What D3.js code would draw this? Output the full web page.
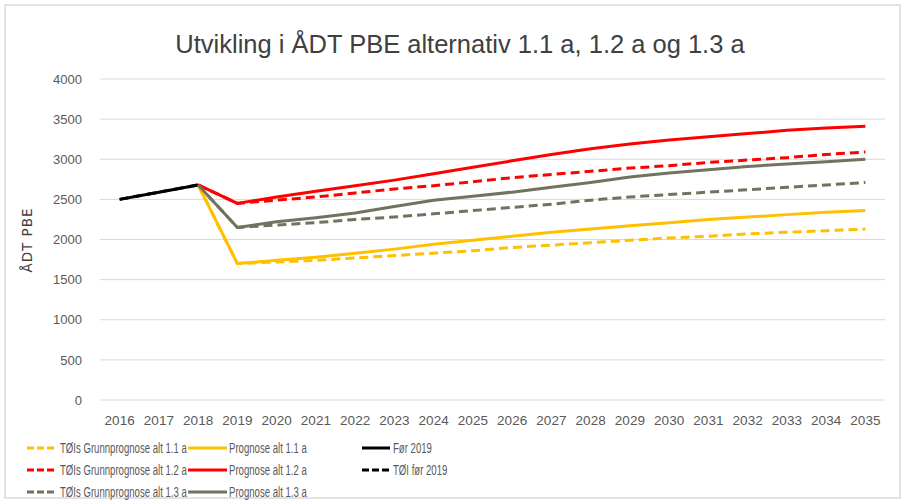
<!DOCTYPE html>
<html>
<head>
<meta charset="utf-8">
<script src="https://cdn.jsdelivr.net/npm/d3@7"></script>
<style>
  body { margin: 0; background: #fff; }
  text { font-family: "Liberation Sans", Arial, sans-serif; }
</style>
</head>
<body>
<div id="chart"></div>
<script>
const years = d3.range(2016, 2036).map(String);
const yTicks = [0, 500, 1000, 1500, 2000, 2500, 3000, 3500, 4000];

// values from 2018 on (2016-2017 only for the "før 2019" series)
const forYears = ["2016", "2017", "2018"];
const for2019 = [2500, 2590, 2680];
const toiFor2019 = [2500, 2590, 2680];

const progYears = d3.range(2018, 2036).map(String);
const toi11 = [2680, 1700, 1720, 1740, 1770, 1800, 1830, 1860, 1900, 1930, 1960, 1990, 2020, 2040, 2070, 2090, 2110, 2130];
const prog11 = [2680, 1700, 1740, 1780, 1830, 1880, 1940, 1990, 2040, 2090, 2130, 2170, 2210, 2250, 2280, 2310, 2340, 2360];
const toi12 = [2680, 2450, 2490, 2530, 2580, 2630, 2670, 2720, 2770, 2810, 2850, 2890, 2920, 2960, 2990, 3020, 3060, 3090];
const prog12 = [2680, 2450, 2530, 2600, 2670, 2740, 2820, 2900, 2980, 3060, 3130, 3190, 3240, 3280, 3320, 3360, 3390, 3410];
const toi13 = [2680, 2150, 2180, 2210, 2250, 2280, 2320, 2360, 2400, 2440, 2490, 2530, 2560, 2590, 2620, 2650, 2680, 2710];
const prog13 = [2680, 2150, 2220, 2270, 2330, 2410, 2490, 2540, 2590, 2650, 2710, 2780, 2830, 2870, 2910, 2940, 2970, 3000];

const YELLOW = "#ffc000", RED = "#ff0000", GRAY = "#72725f", BLACK = "#000000";

const series = [
  { name: "TØIs Grunnprognose alt 1.1 a", x: progYears, v: toi11, color: YELLOW, dash: true, col: 0, row: 0 },
  { name: "TØIs Grunnprognose alt 1.2 a", x: progYears, v: toi12, color: RED, dash: true, col: 0, row: 1 },
  { name: "TØIs Grunnprognose alt 1.3 a", x: progYears, v: toi13, color: GRAY, dash: true, col: 0, row: 2 },
  { name: "Prognose alt 1.1 a", x: progYears, v: prog11, color: YELLOW, dash: false, col: 1, row: 0 },
  { name: "Prognose alt 1.2 a", x: progYears, v: prog12, color: RED, dash: false, col: 1, row: 1 },
  { name: "Prognose alt 1.3 a", x: progYears, v: prog13, color: GRAY, dash: false, col: 1, row: 2 },
  { name: "Før 2019", x: forYears, v: for2019, color: BLACK, dash: false, col: 2, row: 0 },
  { name: "TØI før 2019", x: forYears, v: toiFor2019, color: BLACK, dash: true, col: 2, row: 1 }
];

const W = 908, H = 504;
const plot = { left: 100, right: 885, top: 79, bottom: 400 };

const svg = d3.select("#chart").append("svg").attr("width", W).attr("height", H);

svg.append("rect").attr("x", 5).attr("y", 5).attr("width", 895).attr("height", 493)
  .attr("fill", "#fff").attr("stroke", "#d9d9d9").attr("stroke-width", 1.5);

const x = d3.scaleBand().domain(years).range([plot.left, plot.right]);
const y = d3.scaleLinear().domain([0, 4000]).range([plot.bottom, plot.top]);

// gridlines
svg.append("g").selectAll("line").data(yTicks).join("line")
  .attr("x1", plot.left).attr("x2", plot.right)
  .attr("y1", d => y(d)).attr("y2", d => y(d))
  .attr("stroke", "#d9d9d9").attr("stroke-width", 1);

// y axis labels
const yAxis = svg.append("g").attr("transform", `translate(${plot.left - 18},0)`)
  .call(d3.axisLeft(y).tickValues(yTicks).tickFormat(d3.format("d")).tickSize(0).tickPadding(0));
yAxis.select(".domain").remove();
yAxis.selectAll("text").attr("fill", "#595959").style("font-family", "'Liberation Sans', Arial, sans-serif").style("font-size", "13px");

// x axis labels
const xAxis = svg.append("g").attr("transform", `translate(0,${plot.bottom + 16})`)
  .call(d3.axisBottom(x).tickSize(0).tickPadding(0));
xAxis.select(".domain").remove();
xAxis.selectAll("text").attr("fill", "#595959").attr("dy", "0.7em").style("font-family", "'Liberation Sans', Arial, sans-serif").style("font-size", "13.5px");

// y axis title
svg.append("text")
  .attr("transform", `translate(32,240) rotate(-90)`)
  .attr("text-anchor", "middle")
  .attr("fill", "#404040")
  .style("font-family", "'DejaVu Sans', sans-serif")
  .style("font-size", "13.5px")
  .style("letter-spacing", "1px")
  .text("ÅDT PBE");

// title
svg.append("text")
  .attr("x", 460).attr("y", 53)
  .attr("text-anchor", "middle")
  .attr("fill", "#404040")
  .style("font-size", "25.5px")
  .text("Utvikling i ÅDT PBE alternativ 1.1 a, 1.2 a og 1.3 a");

const line = d3.line().x(d => x(d[0]) + x.bandwidth() / 2).y(d => y(d[1]));

// draw order: solid first, dashed on top
const drawOrder = [6, 3, 4, 5, 0, 1, 2, 7];
svg.append("g").selectAll("path").data(drawOrder.map(i => series[i])).join("path")
  .attr("d", s => line(s.x.map((k, i) => [k, s.v[i]])))
  .attr("fill", "none")
  .attr("stroke", s => s.color)
  .attr("stroke-width", 3)
  .attr("stroke-linejoin", "round")
  .attr("stroke-dasharray", s => s.dash ? "9,5" : null);

// legend
const legCols = [{ x1: 27, x2: 54, tx: 60 }, { x1: 188, x2: 227, tx: 229 }, { x1: 362, x2: 390, tx: 393 }];
const legRows = [448, 470, 492];
const leg = svg.append("g").selectAll("g").data(series).join("g");
leg.append("line")
  .attr("x1", s => legCols[s.col].x1).attr("x2", s => legCols[s.col].x2)
  .attr("y1", s => legRows[s.row]).attr("y2", s => legRows[s.row])
  .attr("stroke", s => s.color).attr("stroke-width", 3)
  .attr("stroke-dasharray", s => s.dash ? "7,3" : null);
leg.append("text")
  .attr("transform", s => `translate(${legCols[s.col].tx},${legRows[s.row]}) scale(0.64,1)`)
  .attr("dy", "0.35em")
  .attr("fill", "#595959")
  .style("font-size", "15px")
  .text(s => s.name);
</script>
</body>
</html>
